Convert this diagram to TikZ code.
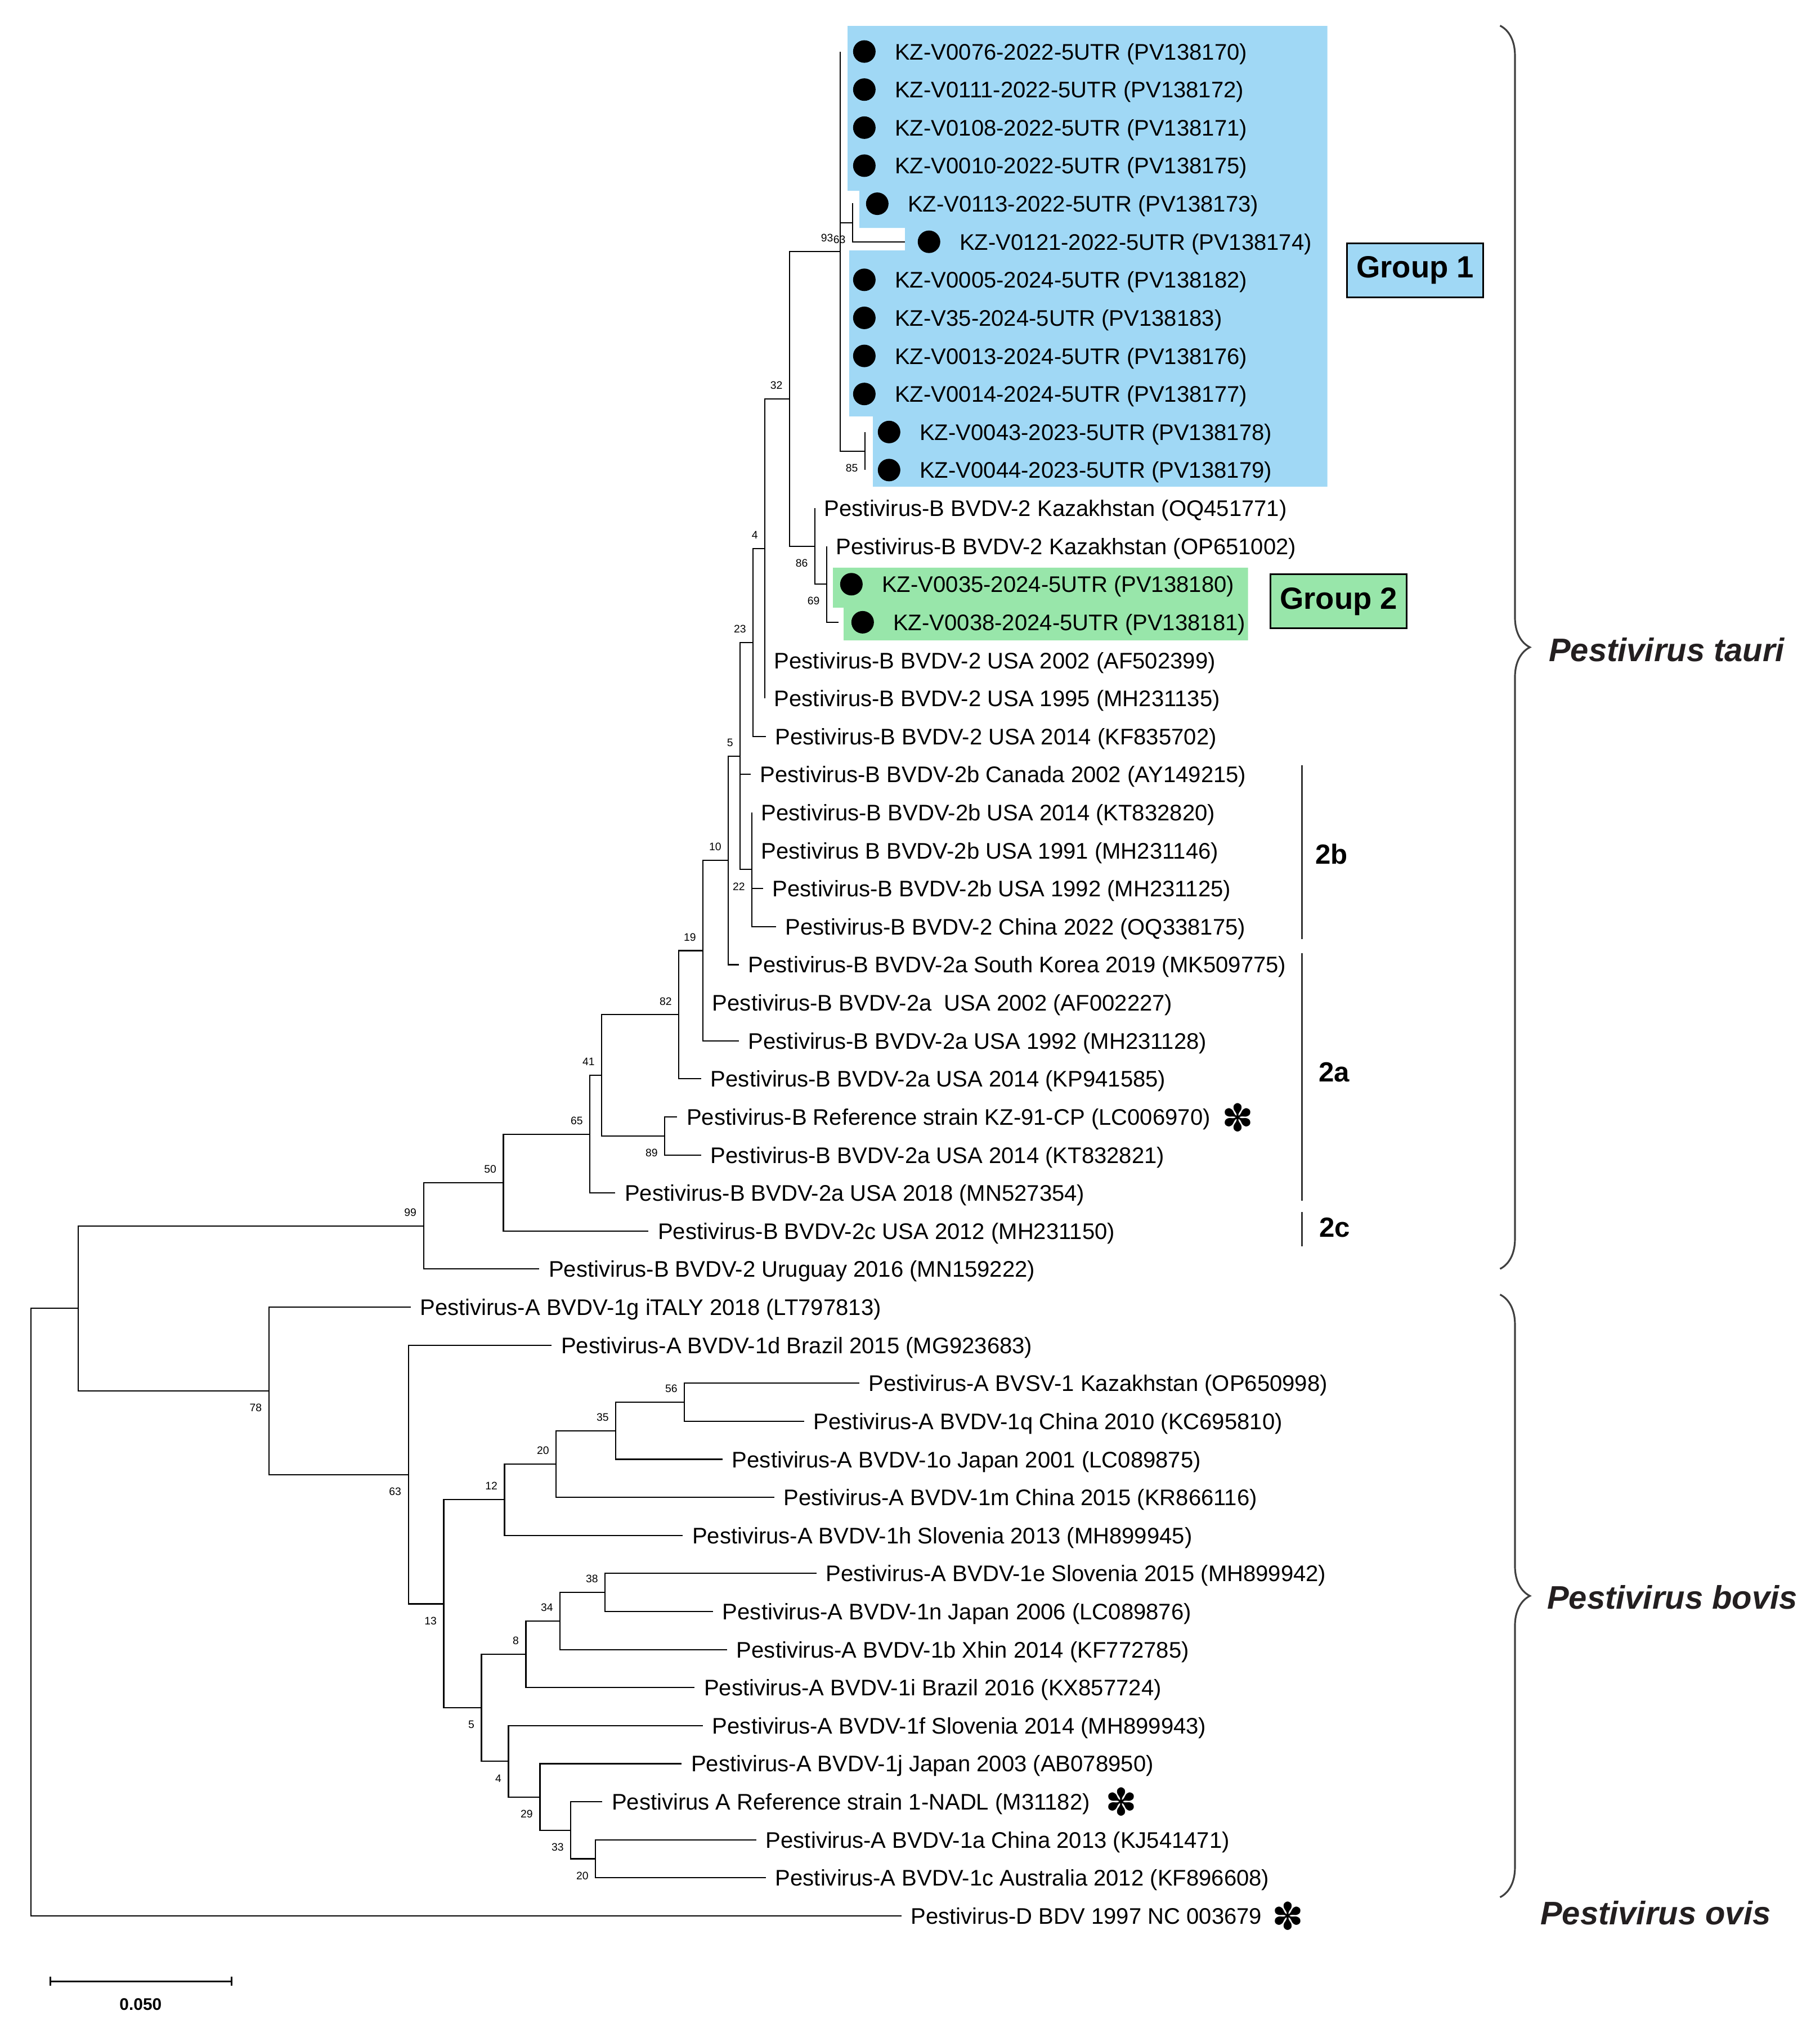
\documentclass[tikz,border=0pt]{standalone}
\usepackage{fontspec}
\setmainfont{Liberation Sans}
\newfontfamily\symfont{DejaVu Sans}
\usepackage{tikz}
\usetikzlibrary{positioning,decorations.pathreplacing,arrows.meta}
\definecolor{grpblue}{RGB}{160,216,245}
\definecolor{grpgreen}{RGB}{152,230,170}
\definecolor{speciesink}{RGB}{35,31,32}
\tikzstyle{treeline} = [line width=0.6pt]
\tikzstyle{leaf} = [inner sep=0, text height=2.9mm, text depth=0mm, font=\fontsize{11.4}{13}\selectfont]
\tikzstyle{marker} = [circle, fill=black, minimum size=0.4cm, inner sep=0]
\tikzstyle{boot} = [inner sep=0, anchor=east, font=\fontsize{5.5}{6}\selectfont]
\tikzstyle{bootup} = [boot, xshift=-0.12cm, yshift=0.24cm]
\tikzstyle{bootdown} = [boot, xshift=-0.12cm, yshift=-0.30cm]
\tikzstyle{groupbox} = [draw=black, line width=0.7pt, minimum width=2.42cm, minimum height=0.96cm, inner sep=0, font=\fontsize{15.5}{18}\selectfont\bfseries]
\tikzstyle{bar} = [line width=1pt, black!80]
\tikzstyle{subtype} = [anchor=west, inner sep=0, font=\fontsize{14}{16}\selectfont\bfseries]
\tikzstyle{speciesbrace} = [decorate, decoration={brace, amplitude=0.53cm}, line width=0.9pt, black!75]
\tikzstyle{species} = [anchor=west, inner sep=0, text=speciesink, font=\fontsize{16.5}{19}\selectfont\bfseries\itshape]
\tikzstyle{refmark} = [inner sep=0, font=\symfont\fontsize{19}{19}\selectfont]
\tikzstyle{scalebar} = [line width=0.9pt, {|[width=0.16cm]}-{|[width=0.16cm]}]

\begin{document}
\begin{tikzpicture}[x=0.01cm, y=-0.6762cm]
\useasboundingbox (0,-1.3546) rectangle (3235,51.737);

\fill[grpblue] (1507,-0.674) -- (2360,-0.674) -- (2360,11.437) -- (1552,11.437) -- (1552,9.59) -- (1510,9.59) -- (1510,5.227) -- (1609,5.227) -- (1609,4.635) -- (1528,4.635) -- (1528,3.659) -- (1507,3.659) -- cycle;
\fill[grpgreen] (1481,13.567) -- (2219,13.567) -- (2219,15.475) -- (1500,15.475) -- (1500,14.617) -- (1481,14.617) -- cycle;

\coordinate (root) at (55,41.015);
\coordinate (top) at (139,33.03);
\coordinate (n99) at (753,30.865);
\coordinate (n50) at (895,29.73);
\coordinate (n65) at (1049,28.455);
\coordinate (n41) at (1070,26.91);
\coordinate (n89) at (1182,28.5);
\coordinate (n82) at (1207,25.315);
\coordinate (n19) at (1250,23.63);
\coordinate (n10) at (1295,21.26);
\coordinate (n5b) at (1316,18.515);
\coordinate (n22) at (1337,21.5);
\coordinate (n23) at (1339,15.53);
\coordinate (n4b) at (1360,13.0625);
\coordinate (n32) at (1404,9.125);
\coordinate (n86) at (1449,13);
\coordinate (n69) at (1470,14);
\coordinate (n93) at (1494,5.25);
\coordinate (n63b) at (1516,4.5);
\coordinate (n85) at (1538,10.5);
\coordinate (n78) at (478,35.2);
\coordinate (n63) at (726,37.4);
\coordinate (n13) at (789,40.8);
\coordinate (n12) at (897,38.06);
\coordinate (n20) at (989,37.125);
\coordinate (n35) at (1095,36.25);
\coordinate (n56) at (1217,35.5);
\coordinate (n5) at (856,43.53);
\coordinate (n8) at (935,42.125);
\coordinate (n34) at (996,41.25);
\coordinate (n38) at (1076,40.5);
\coordinate (n4) at (904,44.94);
\coordinate (n29) at (960,45.875);
\coordinate (n33) at (1015,46.75);
\coordinate (n20b) at (1059,47.5);

\coordinate (pv170e) at (1494,0);
\coordinate (pv172e) at (1494,1);
\coordinate (pv171e) at (1494,2);
\coordinate (pv175e) at (1494,3);
\coordinate (pv173e) at (1517,4);
\coordinate (pv174e) at (1609,5);
\coordinate (pv182e) at (1494,6);
\coordinate (pv183e) at (1494,7);
\coordinate (pv176e) at (1494,8);
\coordinate (pv177e) at (1494,9);
\coordinate (pv178e) at (1538,10);
\coordinate (pv179e) at (1538,11);
\coordinate (oq451771e) at (1449,12);
\coordinate (op651002e) at (1470,13);
\coordinate (pv180e) at (1471,14);
\coordinate (pv181e) at (1491,15);
\coordinate (af502399e) at (1360,16);
\coordinate (mh231135e) at (1360,17);
\coordinate (kf835702e) at (1362,18);
\coordinate (ay149215e) at (1335,19);
\coordinate (kt832820e) at (1337,20);
\coordinate (mh231146e) at (1337,21);
\coordinate (mh231125e) at (1357,22);
\coordinate (oq338175e) at (1380,23);
\coordinate (mk509775e) at (1314,24);
\coordinate (af002227e) at (1250,25);
\coordinate (mh231128e) at (1314,26);
\coordinate (kp941585e) at (1247,27);
\coordinate (lc006970e) at (1204,28);
\coordinate (kt832821e) at (1247,29);
\coordinate (mn527354e) at (1094,30);
\coordinate (mh231150e) at (1153,31);
\coordinate (mn159222e) at (959,32);
\coordinate (lt797813e) at (730,33);
\coordinate (mg923683e) at (981,34);
\coordinate (op650998e) at (1528,35);
\coordinate (kc695810e) at (1430,36);
\coordinate (lc089875e) at (1285,37);
\coordinate (kr866116e) at (1377,38);
\coordinate (mh899945e) at (1214,39);
\coordinate (mh899942e) at (1452,40);
\coordinate (lc089876e) at (1268,41);
\coordinate (kf772785e) at (1293,42);
\coordinate (kx857724e) at (1235,43);
\coordinate (mh899943e) at (1250,44);
\coordinate (ab078950e) at (1212,45);
\coordinate (m31182e) at (1071,46);
\coordinate (kj541471e) at (1345,47);
\coordinate (kf896608e) at (1362,48);
\coordinate (nc003679e) at (1603,49);

\node(pv170d) [marker, right=0.22cm of pv170e] {};
\node(pv170) [leaf, right=0.33cm of pv170d] {KZ-V0076-2022-5UTR (PV138170)};
\node(pv172d) [marker, right=0.22cm of pv172e] {};
\node(pv172) [leaf, right=0.33cm of pv172d] {KZ-V0111-2022-5UTR (PV138172)};
\node(pv171d) [marker, right=0.22cm of pv171e] {};
\node(pv171) [leaf, right=0.33cm of pv171d] {KZ-V0108-2022-5UTR (PV138171)};
\node(pv175d) [marker, right=0.22cm of pv175e] {};
\node(pv175) [leaf, right=0.33cm of pv175d] {KZ-V0010-2022-5UTR (PV138175)};
\node(pv173d) [marker, right=0.22cm of pv173e] {};
\node(pv173) [leaf, right=0.33cm of pv173d] {KZ-V0113-2022-5UTR (PV138173)};
\node(pv174d) [marker, right=0.22cm of pv174e] {};
\node(pv174) [leaf, right=0.33cm of pv174d] {KZ-V0121-2022-5UTR (PV138174)};
\node(pv182d) [marker, right=0.22cm of pv182e] {};
\node(pv182) [leaf, right=0.33cm of pv182d] {KZ-V0005-2024-5UTR (PV138182)};
\node(pv183d) [marker, right=0.22cm of pv183e] {};
\node(pv183) [leaf, right=0.33cm of pv183d] {KZ-V35-2024-5UTR (PV138183)};
\node(pv176d) [marker, right=0.22cm of pv176e] {};
\node(pv176) [leaf, right=0.33cm of pv176d] {KZ-V0013-2024-5UTR (PV138176)};
\node(pv177d) [marker, right=0.22cm of pv177e] {};
\node(pv177) [leaf, right=0.33cm of pv177d] {KZ-V0014-2024-5UTR (PV138177)};
\node(pv178d) [marker, right=0.22cm of pv178e] {};
\node(pv178) [leaf, right=0.33cm of pv178d] {KZ-V0043-2023-5UTR (PV138178)};
\node(pv179d) [marker, right=0.22cm of pv179e] {};
\node(pv179) [leaf, right=0.33cm of pv179d] {KZ-V0044-2023-5UTR (PV138179)};
\node(oq451771) [leaf, right=0.16cm of oq451771e] {Pestivirus-B BVDV-2 Kazakhstan (OQ451771)};
\node(op651002) [leaf, right=0.16cm of op651002e] {Pestivirus-B BVDV-2 Kazakhstan (OP651002)};
\node(pv180d) [marker, right=0.22cm of pv180e] {};
\node(pv180) [leaf, right=0.33cm of pv180d] {KZ-V0035-2024-5UTR (PV138180)};
\node(pv181d) [marker, right=0.22cm of pv181e] {};
\node(pv181) [leaf, right=0.33cm of pv181d] {KZ-V0038-2024-5UTR (PV138181)};
\node(af502399) [leaf, right=0.16cm of af502399e] {Pestivirus-B BVDV-2 USA 2002 (AF502399)};
\node(mh231135) [leaf, right=0.16cm of mh231135e] {Pestivirus-B BVDV-2 USA 1995 (MH231135)};
\node(kf835702) [leaf, right=0.16cm of kf835702e] {Pestivirus-B BVDV-2 USA 2014 (KF835702)};
\node(ay149215) [leaf, right=0.16cm of ay149215e] {Pestivirus-B BVDV-2b Canada 2002 (AY149215)};
\node(kt832820) [leaf, right=0.16cm of kt832820e] {Pestivirus-B BVDV-2b USA 2014 (KT832820)};
\node(mh231146) [leaf, right=0.16cm of mh231146e] {Pestivirus B BVDV-2b USA 1991 (MH231146)};
\node(mh231125) [leaf, right=0.16cm of mh231125e] {Pestivirus-B BVDV-2b USA 1992 (MH231125)};
\node(oq338175) [leaf, right=0.16cm of oq338175e] {Pestivirus-B BVDV-2 China 2022 (OQ338175)};
\node(mk509775) [leaf, right=0.16cm of mk509775e] {Pestivirus-B BVDV-2a South Korea 2019 (MK509775)};
\node(af002227) [leaf, right=0.16cm of af002227e] {Pestivirus-B BVDV-2a\ \ USA 2002 (AF002227)};
\node(mh231128) [leaf, right=0.16cm of mh231128e] {Pestivirus-B BVDV-2a USA 1992 (MH231128)};
\node(kp941585) [leaf, right=0.16cm of kp941585e] {Pestivirus-B BVDV-2a USA 2014 (KP941585)};
\node(lc006970) [leaf, right=0.16cm of lc006970e] {Pestivirus-B Reference strain KZ-91-CP (LC006970)};
\node(kt832821) [leaf, right=0.16cm of kt832821e] {Pestivirus-B BVDV-2a USA 2014 (KT832821)};
\node(mn527354) [leaf, right=0.16cm of mn527354e] {Pestivirus-B BVDV-2a USA 2018 (MN527354)};
\node(mh231150) [leaf, right=0.16cm of mh231150e] {Pestivirus-B BVDV-2c USA 2012 (MH231150)};
\node(mn159222) [leaf, right=0.16cm of mn159222e] {Pestivirus-B BVDV-2 Uruguay 2016 (MN159222)};
\node(lt797813) [leaf, right=0.16cm of lt797813e] {Pestivirus-A BVDV-1g iTALY 2018 (LT797813)};
\node(mg923683) [leaf, right=0.16cm of mg923683e] {Pestivirus-A BVDV-1d Brazil 2015 (MG923683)};
\node(op650998) [leaf, right=0.16cm of op650998e] {Pestivirus-A BVSV-1 Kazakhstan (OP650998)};
\node(kc695810) [leaf, right=0.16cm of kc695810e] {Pestivirus-A BVDV-1q China 2010 (KC695810)};
\node(lc089875) [leaf, right=0.16cm of lc089875e] {Pestivirus-A BVDV-1o Japan 2001 (LC089875)};
\node(kr866116) [leaf, right=0.16cm of kr866116e] {Pestivirus-A BVDV-1m China 2015 (KR866116)};
\node(mh899945) [leaf, right=0.16cm of mh899945e] {Pestivirus-A BVDV-1h Slovenia 2013 (MH899945)};
\node(mh899942) [leaf, right=0.16cm of mh899942e] {Pestivirus-A BVDV-1e Slovenia 2015 (MH899942)};
\node(lc089876) [leaf, right=0.16cm of lc089876e] {Pestivirus-A BVDV-1n Japan 2006 (LC089876)};
\node(kf772785) [leaf, right=0.16cm of kf772785e] {Pestivirus-A BVDV-1b Xhin 2014 (KF772785)};
\node(kx857724) [leaf, right=0.16cm of kx857724e] {Pestivirus-A BVDV-1i Brazil 2016 (KX857724)};
\node(mh899943) [leaf, right=0.16cm of mh899943e] {Pestivirus-A BVDV-1f Slovenia 2014 (MH899943)};
\node(ab078950) [leaf, right=0.16cm of ab078950e] {Pestivirus-A BVDV-1j Japan 2003 (AB078950)};
\node(m31182) [leaf, right=0.16cm of m31182e] {Pestivirus A Reference strain 1-NADL (M31182)};
\node(kj541471) [leaf, right=0.16cm of kj541471e] {Pestivirus-A BVDV-1a China 2013 (KJ541471)};
\node(kf896608) [leaf, right=0.16cm of kf896608e] {Pestivirus-A BVDV-1c Australia 2012 (KF896608)};
\node(nc003679) [leaf, right=0.16cm of nc003679e] {Pestivirus-D BDV 1997 NC 003679};

\draw[treeline] (root) |- (top) (root) |- (nc003679e);
\draw[treeline] (top) |- (n99) (top) |- (n78);
\draw[treeline] (n99) |- (n50) (n99) |- (mn159222e);
\draw[treeline] (n50) |- (n65) (n50) |- (mh231150e);
\draw[treeline] (n65) |- (n41) (n65) |- (mn527354e);
\draw[treeline] (n41) |- (n82) (n41) |- (n89);
\draw[treeline] (n89) |- (lc006970e) (n89) |- (kt832821e);
\draw[treeline] (n82) |- (n19) (n82) |- (kp941585e);
\draw[treeline] (n19) |- (n10) (n19) |- (af002227e) (n19) |- (mh231128e);
\draw[treeline] (n10) |- (n5b) (n10) |- (mk509775e);
\draw[treeline] (n5b) |- (n23) (n5b) |- (ay149215e) (n5b) |- (n22);
\draw[treeline] (n22) |- (kt832820e) (n22) |- (mh231146e) (n22) |- (mh231125e) (n22) |- (oq338175e);
\draw[treeline] (n23) |- (n4b) (n23) |- (kf835702e);
\draw[treeline] (n4b) |- (n32) (n4b) |- (af502399e) (n4b) |- (mh231135e);
\draw[treeline] (n32) |- (n93) (n32) |- (n86);
\draw[treeline] (n86) |- (oq451771e) (n86) |- (n69);
\draw[treeline] (n69) |- (op651002e) (n69) |- (pv180e) (n69) |- (pv181e);
\draw[treeline] (n93) |- (pv170e) (n93) |- (pv172e) (n93) |- (pv171e) (n93) |- (pv175e) (n93) |- (n63b) (n93) |- (pv182e) (n93) |- (pv183e) (n93) |- (pv176e) (n93) |- (pv177e) (n93) |- (n85);
\draw[treeline] (n63b) |- (pv173e) (n63b) |- (pv174e);
\draw[treeline] (n85) |- (pv178e) (n85) |- (pv179e);
\draw[treeline] (n78) |- (lt797813e) (n78) |- (n63);
\draw[treeline] (n63) |- (mg923683e) (n63) |- (n13);
\draw[treeline] (n13) |- (n12) (n13) |- (n5);
\draw[treeline] (n12) |- (n20) (n12) |- (mh899945e);
\draw[treeline] (n20) |- (n35) (n20) |- (kr866116e);
\draw[treeline] (n35) |- (n56) (n35) |- (lc089875e);
\draw[treeline] (n56) |- (op650998e) (n56) |- (kc695810e);
\draw[treeline] (n5) |- (n8) (n5) |- (n4);
\draw[treeline] (n8) |- (n34) (n8) |- (kx857724e);
\draw[treeline] (n34) |- (n38) (n34) |- (kf772785e);
\draw[treeline] (n38) |- (mh899942e) (n38) |- (lc089876e);
\draw[treeline] (n4) |- (mh899943e) (n4) |- (n29);
\draw[treeline] (n29) |- (ab078950e) (n29) |- (n33);
\draw[treeline] (n33) |- (m31182e) (n33) |- (n20b);
\draw[treeline] (n20b) |- (kj541471e) (n20b) |- (kf896608e);

\node(bs99) [bootup] at (n99) {99};
\node(bs50) [bootup] at (n50) {50};
\node(bs65) [bootup] at (n65) {65};
\node(bs41) [bootup] at (n41) {41};
\node(bs89) [bootdown] at (n89) {89};
\node(bs82) [bootup] at (n82) {82};
\node(bs19) [bootup] at (n19) {19};
\node(bs10) [bootup] at (n10) {10};
\node(bs5b) [bootup] at (n5b) {5};
\node(bs22) [bootdown] at (n22) {22};
\node(bs23) [bootup] at (n23) {23};
\node(bs4b) [bootup] at (n4b) {4};
\node(bs32) [bootup] at (n32) {32};
\node(bs86) [bootdown] at (n86) {86};
\node(bs69) [bootdown] at (n69) {69};
\node(bs93) [bootup] at (n93) {93};
\node(bs63b) [bootdown] at (n63b) {63};
\node(bs85) [bootdown] at (n85) {85};
\node(bs78) [bootdown] at (n78) {78};
\node(bs63) [bootdown] at (n63) {63};
\node(bs13) [bootdown] at (n13) {13};
\node(bs12) [bootup] at (n12) {12};
\node(bs20) [bootup] at (n20) {20};
\node(bs35) [bootup] at (n35) {35};
\node(bs56) [bootup] at (n56) {56};
\node(bs5) [bootdown] at (n5) {5};
\node(bs8) [bootup] at (n8) {8};
\node(bs34) [bootup] at (n34) {34};
\node(bs38) [bootup] at (n38) {38};
\node(bs4) [bootdown] at (n4) {4};
\node(bs29) [bootdown] at (n29) {29};
\node(bs33) [bootdown] at (n33) {33};
\node(bs20b) [bootdown] at (n20b) {20};

\node(group1) [groupbox, fill=grpblue] at (2516,5.75) {Group 1};
\node(group2) [groupbox, fill=grpgreen] at (2380,14.45) {Group 2};

\coordinate (bar2btop) at (2315,18.76);
\coordinate (bar2bbot) at (2315,23.33);
\coordinate (bar2atop) at (2315,23.7);
\coordinate (bar2abot) at (2315,30.2);
\coordinate (bar2ctop) at (2315,30.5);
\coordinate (bar2cbot) at (2315,31.4);
\draw[bar] (bar2btop) -- (bar2bbot);
\draw[bar] (bar2atop) -- (bar2abot);
\draw[bar] (bar2ctop) -- (bar2cbot);
\node(sub2b) [subtype] at (2338,21.09) {2b};
\node(sub2a) [subtype] at (2344,26.82) {2a};
\node(sub2c) [subtype] at (2345,30.91) {2c};

\node(ref2) [refmark] at (2201,28.02) {✽};
\node(ref1) [refmark] at (1994,46) {✽};
\node(refd) [refmark] at (2290,49) {✽};

\coordinate (tauritop) at (2667,-0.68);
\coordinate (tauribot) at (2667,31.995);
\coordinate (bovistop) at (2667,32.67);
\coordinate (bovisbot) at (2667,48.51);
\draw[speciesbrace] (tauritop) -- (tauribot);
\draw[speciesbrace] (bovistop) -- (bovisbot);
\node(tauri) [species] at (2753,15.72) {Pestivirus tauri};
\node(bovis) [species] at (2750,40.63) {Pestivirus bovis};
\node(ovis) [species] at (2738,48.93) {Pestivirus ovis};

\coordinate (scaleleft) at (88,50.72);
\coordinate (scaleright) at (413,50.72);
\draw[scalebar] (scaleleft) -- (scaleright);
\node(scalelabel) [font=\fontsize{8.5}{10}\selectfont\bfseries] at (250,51.32) {0.050};

\end{tikzpicture}
\end{document}
